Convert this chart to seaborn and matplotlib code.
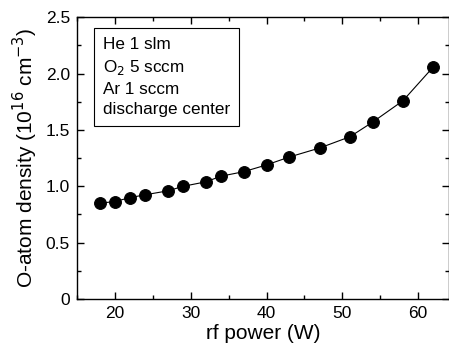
import matplotlib
matplotlib.use("Agg")
import matplotlib.pyplot as plt
import seaborn as sns
import pandas as pd
from matplotlib.ticker import MultipleLocator, FixedFormatter, FixedLocator

# data
power = [18, 20, 22, 24, 27, 29, 32, 34, 37, 40, 43, 47, 51, 54, 58, 62]
density = [0.85, 0.865, 0.90, 0.925, 0.96, 1.0, 1.04, 1.09, 1.13, 1.19,
           1.26, 1.34, 1.44, 1.57, 1.76, 2.06]
y_ticks = [0, 0.5, 1.0, 1.5, 2.0, 2.5]
y_labels = ["0", "0.5", "1.0", "1.5", "2.0", "2.5"]

df = pd.DataFrame({"power": power, "density": density})

sns.set_style("ticks", rc={"text.color": "black", "axes.labelcolor": "black",
                           "xtick.color": "black", "ytick.color": "black",
                           "axes.edgecolor": "black"})
plt.rcParams["font.family"] = ["Liberation Sans", "DejaVu Sans"]

fig = plt.figure(figsize=(4.49, 3.5), dpi=100)
ax = fig.add_axes([77 / 449, 1 - 299 / 350, (449 - 77.5) / 449, (299 - 17.3) / 350])

sns.lineplot(data=df, x="power", y="density", color="black", linewidth=0.8,
             marker="o", markersize=8.5, markeredgecolor="black", ax=ax)

ax.set_xlim(15, 64)
ax.set_ylim(0, 2.5)
ax.xaxis.set_major_locator(MultipleLocator(10))
ax.xaxis.set_minor_locator(MultipleLocator(5))
ax.yaxis.set_major_locator(FixedLocator(y_ticks))
ax.yaxis.set_major_formatter(FixedFormatter(y_labels))
ax.yaxis.set_minor_locator(MultipleLocator(0.25))

ax.tick_params(which="both", direction="in", top=True, right=True, width=1, labelsize=12.5)
ax.tick_params(which="major", length=5, pad=5)
ax.tick_params(which="minor", length=3)
for s in ax.spines.values():
    s.set_linewidth(1)

ax.set_xlabel("rf power (W)", fontsize=15, labelpad=2)
ax.set_ylabel(r"O-atom density (10$^{16}$ cm$^{-3}$)", fontsize=15, labelpad=4)

ax.text(0.07, 0.93,
        "He 1 slm\nO$_2$ 5 sccm\nAr 1 sccm\ndischarge center",
        transform=ax.transAxes, fontsize=12.3, va="top", ha="left",
        linespacing=1.42,
        bbox=dict(boxstyle="square,pad=0.5", facecolor="white", edgecolor="black", linewidth=0.8))

fig.savefig("out.png", dpi=100)
